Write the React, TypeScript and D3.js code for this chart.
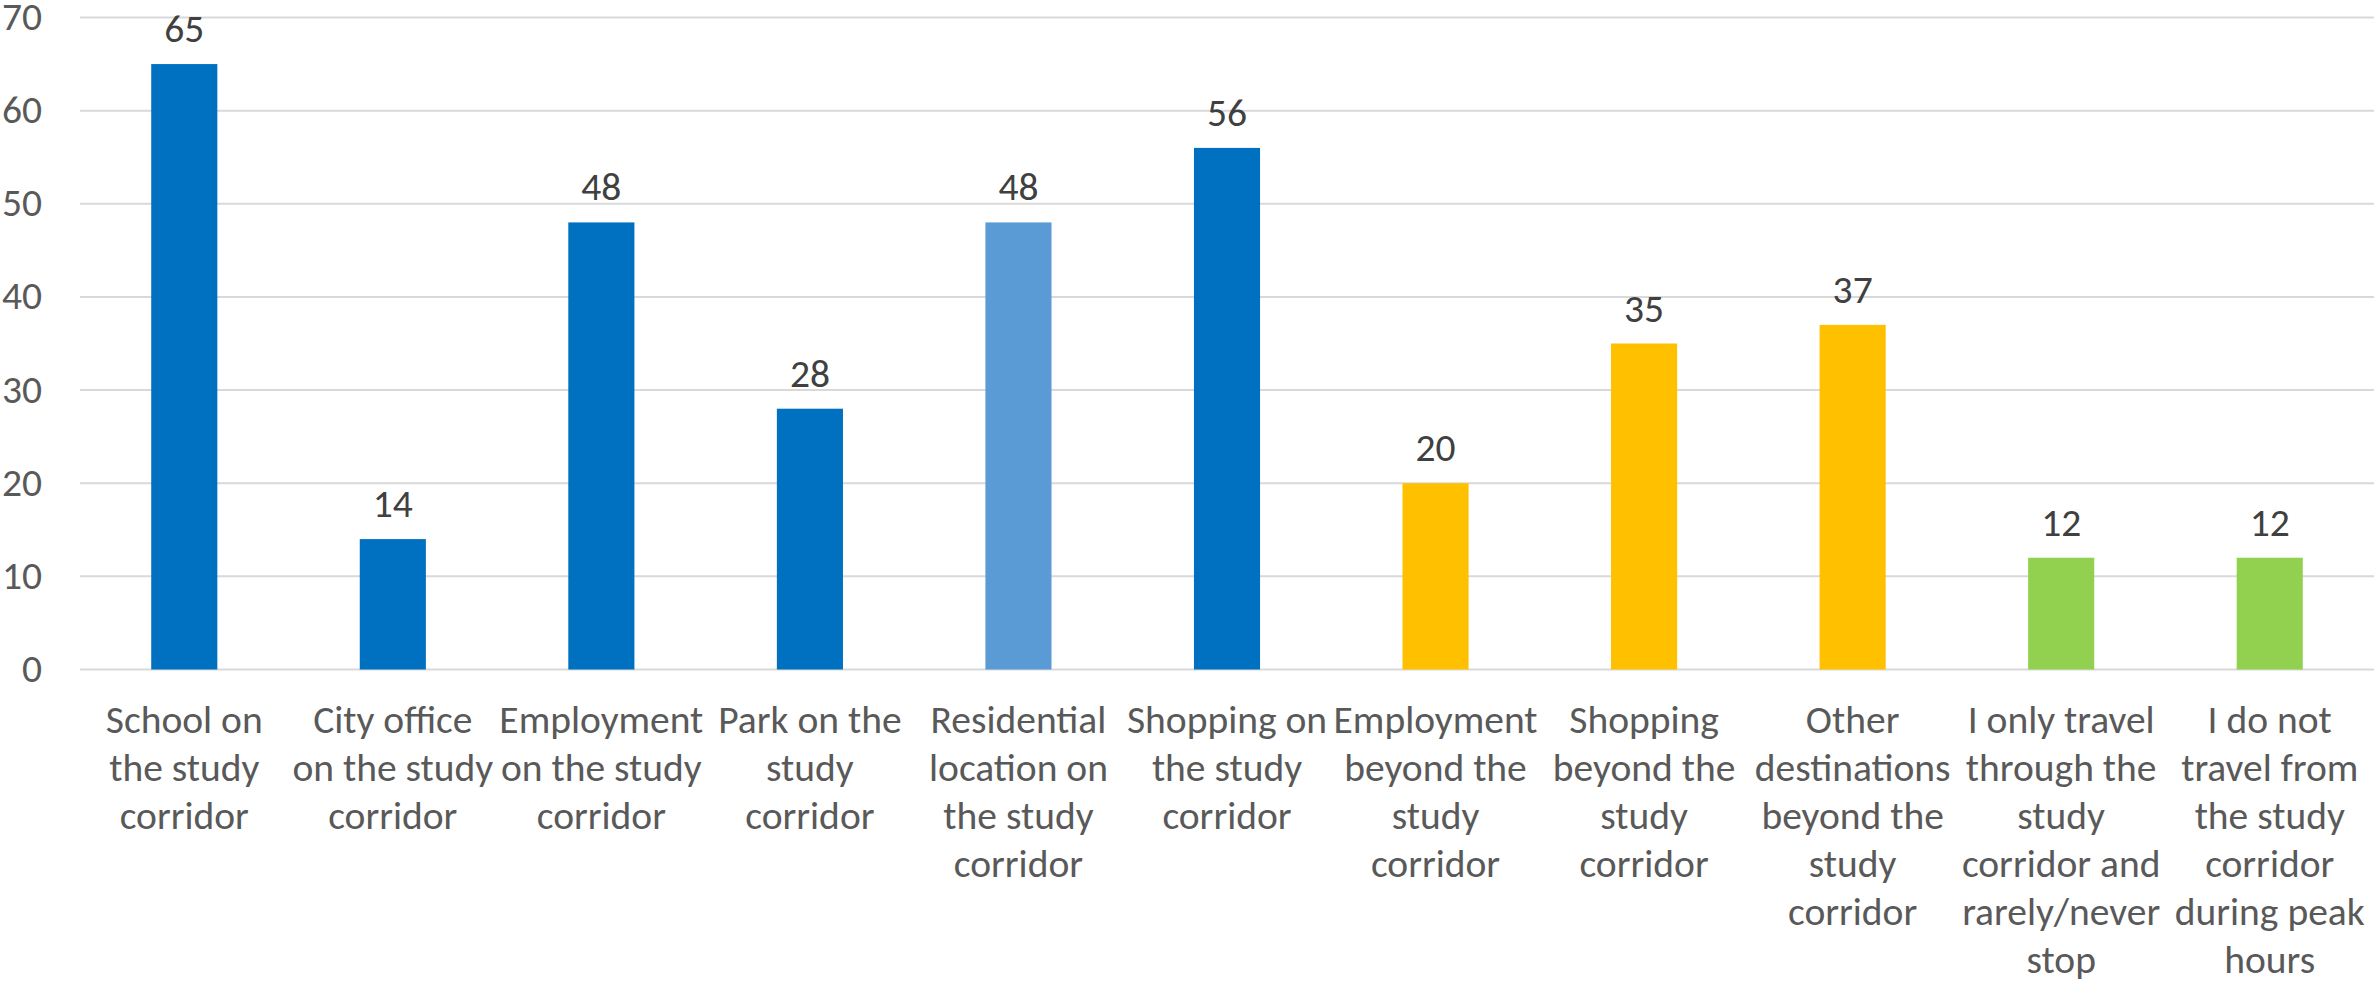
import React from "react";
import * as d3 from "d3";

const categories: string[][] = [
  ["School on", "the study", "corridor"],
  ["City office", "on the study", "corridor"],
  ["Employment", "on the study", "corridor"],
  ["Park on the", "study", "corridor"],
  ["Residential", "location on", "the study", "corridor"],
  ["Shopping on", "the study", "corridor"],
  ["Employment", "beyond the", "study", "corridor"],
  ["Shopping", "beyond the", "study", "corridor"],
  ["Other", "destinations", "beyond the", "study", "corridor"],
  ["I only travel", "through the", "study", "corridor and", "rarely/never", "stop"],
  ["I do not", "travel from", "the study", "corridor", "during peak", "hours"],
];
const values: number[] = [65, 14, 48, 28, 48, 56, 20, 35, 37, 12, 12];
const barColors: string[] = [
  "#0070C0", "#0070C0", "#0070C0", "#0070C0", "#5B9BD5", "#0070C0",
  "#FFC000", "#FFC000", "#FFC000", "#92D050", "#92D050",
];
const yTicks: number[] = [0, 10, 20, 30, 40, 50, 60, 70];

const W = 2374;
const H = 985;
const FONT = "Carlito, 'Liberation Sans Narrow', 'Liberation Sans', sans-serif";

export default function App() {
  const left = 80;
  const right = 2374;
  const x = d3
    .scaleBand<number>()
    .domain(d3.range(values.length))
    .range([left, right])
    .paddingInner(0.683)
    .paddingOuter(0.3415);
  const y = d3.scaleLinear().domain([0, 70]).range([669.5, 17.5]);
  const fs = 39.5;
  const lineH = 48;

  return (
    <svg
      width={W}
      height={H}
      style={{ position: "absolute", left: 0, top: 0, background: "#fff" }}
      fontFamily={FONT}
    >
      {yTicks.map((t) => (
        <g key={t}>
          <line x1={left} x2={right} y1={y(t)} y2={y(t)} stroke="#D9D9D9" strokeWidth={2} />
          <text x={42} y={y(t) + 12.5} textAnchor="end" fontSize={fs} fill="#595959">
            {t}
          </text>
        </g>
      ))}
      {values.map((v, i) => (
        <g key={i}>
          <rect
            x={x(i)}
            y={y(v)}
            width={x.bandwidth()}
            height={y(0) - y(v)}
            fill={barColors[i]}
          />
          <text
            x={(x(i) as number) + x.bandwidth() / 2}
            y={y(v) - 22}
            textAnchor="middle"
            fontSize={fs}
            fill="#404040"
          >
            {v}
          </text>
          <text textAnchor="middle" fontSize={fs} fill="#595959">
            {categories[i].map((ln, j) => (
              <tspan key={j} x={(x(i) as number) + x.bandwidth() / 2} y={733 + j * lineH}>
                {ln}
              </tspan>
            ))}
          </text>
        </g>
      ))}
    </svg>
  );
}
